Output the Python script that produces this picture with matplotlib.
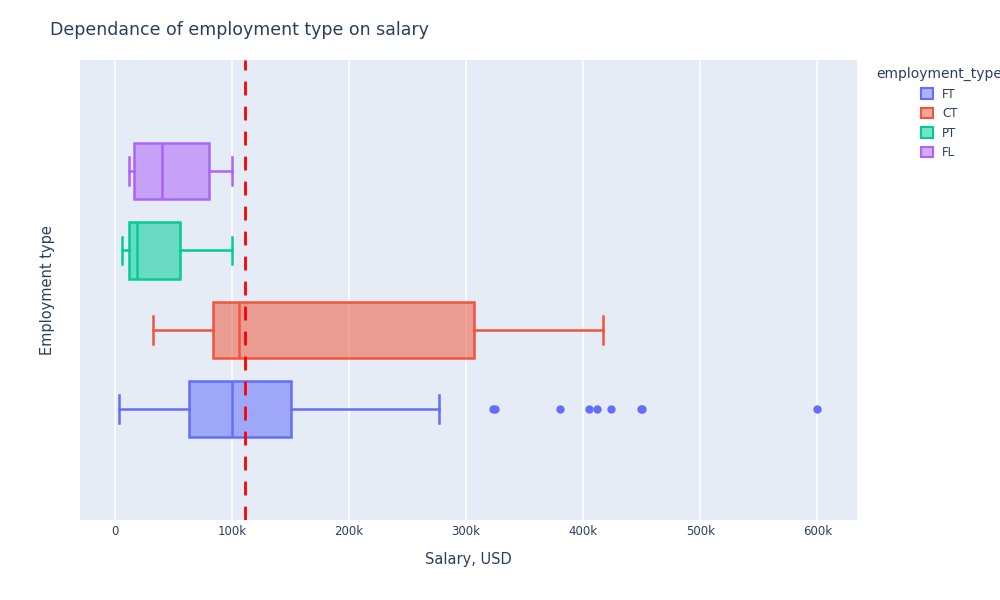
import matplotlib.pyplot as plt
from matplotlib.patches import Patch

# values in thousands of USD
types = ["FT", "CT", "PT", "FL"]
colors = ["#636efa", "#EF553B", "#00cc96", "#ab63fa"]
whislo = [3.4, 32.5, 6, 12]
q1 = [63, 84, 12, 16]
med = [100, 106, 19, 40]
q3 = [150, 307, 55.5, 80]
whishi = [277, 417, 100, 100]
fliers = [[323, 325, 380, 405, 412, 424, 449, 450, 600], [], [], []]
mean_salary = 111

fig = plt.figure(figsize=(10, 6), dpi=100)
ax = fig.add_axes([0.08, 0.133, 0.777, 0.767])
ax.set_facecolor("#e5ecf6")

for i, t in enumerate(types):
    st = [dict(whislo=whislo[i] * 1000, q1=q1[i] * 1000, med=med[i] * 1000,
               q3=q3[i] * 1000, whishi=whishi[i] * 1000,
               fliers=[f * 1000 for f in fliers[i]])]
    c = colors[i]
    ax.bxp(st, positions=[i], vert=False, widths=0.71, patch_artist=True,
           boxprops=dict(facecolor=c + "88", edgecolor=c, linewidth=1.8),
           medianprops=dict(color=c, linewidth=1.8),
           whiskerprops=dict(color=c, linewidth=1.8),
           capprops=dict(color=c, linewidth=1.8),
           capwidths=0.35,
           flierprops=dict(marker="o", markersize=5, markerfacecolor=c,
                           markeredgecolor=c))

ax.axvline(mean_salary * 1000, color="red", ls=(0, (5, 4)), lw=2)

ax.set_xlim(-30000, 634000)
ax.set_ylim(-1.4, 4.4)
ax.set_xticks([0, 100000, 200000, 300000, 400000, 500000, 600000])
ax.set_xticklabels(["0", "100k", "200k", "300k", "400k", "500k", "600k"])
ax.set_yticks([])
ax.grid(axis="x", color="white", lw=1.2)
ax.set_axisbelow(True)
for s in ax.spines.values():
    s.set_visible(False)
ax.tick_params(axis="x", length=0, labelsize=8.5, colors="#2a3f5f")
ax.set_xlabel("Salary, USD", fontsize=10.5, color="#2a3f5f", labelpad=10)
ax.set_ylabel("Employment type", fontsize=10.5, color="#2a3f5f", labelpad=18)

fig.text(0.05, 0.965, "Dependance of employment type on salary", fontsize=12.5,
         color="#2a3f5f", va="top")

handles = [Patch(facecolor=c + "88", edgecolor=c, linewidth=1.5) for c in colors]
leg = fig.legend(handles, types, title="employment_type", loc="upper left",
                 bbox_to_anchor=(0.868, 0.902), frameon=False, fontsize=8.5,
                 title_fontsize=10, handlelength=1, handleheight=1,
                 labelcolor="#2a3f5f", labelspacing=0.55, borderpad=0.2)
leg.get_title().set_color("#2a3f5f")

fig.savefig("out.png")
